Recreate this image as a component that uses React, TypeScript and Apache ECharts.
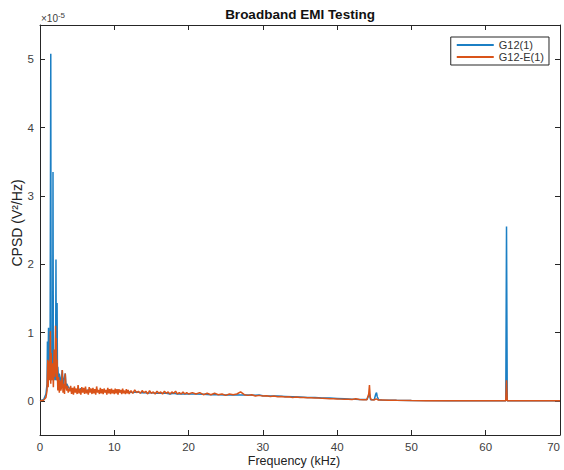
import React, { useEffect, useRef } from "react";
import * as echarts from "echarts";

// [frequency (kHz), CPSD (×1e-5 V²/Hz)]
const g12Low: [number, number][] = [
  [0, 0], [0.5, 0.02], [0.8, 0.1], [0.95, 0.25], [1.0, 0.87], [1.05, 0.3], [1.15, 1.07], [1.2, 0.35], [1.25, 0.6],
  [1.35, 0.4], [1.45, 5.08], [1.5, 0.3], [1.6, 0.5], [1.7, 0.35], [1.75, 3.35], [1.8, 0.4], [1.9, 0.6], [2.0, 0.3],
  [2.1, 0.5], [2.15, 2.07], [2.2, 0.3], [2.25, 0.45], [2.3, 1.43], [2.35, 0.35], [2.4, 0.5], [2.5, 0.3], [2.6, 0.4],
  [2.8, 0.25], [3.0, 0.45], [3.1, 0.2], [3.2, 0.3], [3.4, 0.4], [3.5, 0.2], [3.6, 0.25], [3.8, 0.2], [4.0, 0.18],
];
const g12Mid: [number, number][] = [
  [4.5, 0.17], [5, 0.15], [5.5, 0.18], [6, 0.14], [6.5, 0.16], [7, 0.14], [7.5, 0.16], [8, 0.14], [8.5, 0.15],
  [9, 0.13], [9.5, 0.15], [10, 0.13], [10.5, 0.14], [11, 0.13], [11.5, 0.13], [12, 0.13], [12.5, 0.12], [13, 0.13],
  [13.5, 0.12], [14, 0.12], [14.5, 0.11], [15, 0.12], [15.5, 0.11], [16, 0.11], [16.5, 0.11], [17, 0.11],
  [17.5, 0.1], [18, 0.11], [18.5, 0.1], [19, 0.1], [19.5, 0.1], [20, 0.1], [21, 0.1], [22, 0.095], [23, 0.09],
  [24, 0.09], [25, 0.085], [26, 0.09], [27, 0.085], [28, 0.085], [29, 0.08], [29.5, 0.085], [30, 0.075],
  [31, 0.07], [32, 0.07], [33, 0.065], [34, 0.06], [35, 0.055], [36, 0.05], [37, 0.05], [38, 0.04], [39, 0.04],
  [40, 0.035], [41, 0.03], [42, 0.025], [43, 0.02], [44, 0.018],
];
const g12High: [number, number][] = [
  [44.35, 0.1], [44.5, 0.017], [45, 0.02], [45.2, 0.1], [45.3, 0.12], [45.4, 0.06], [45.6, 0.015], [46, 0.012],
  [48, 0.008], [50, 0.005], [55, 0.002], [62.7, 0.001], [62.8, 2.55], [62.9, 0.001], [66, 0], [70, 0],
];

const g12ELow: [number, number][] = [
  [0, 0], [0.5, 0.01], [0.8, 0.05], [0.95, 0.15], [1.05, 0.6], [1.1, 0.2], [1.2, 0.58], [1.3, 0.3], [1.4, 1.02],
  [1.45, 0.25], [1.5, 0.7], [1.6, 0.3], [1.7, 0.55], [1.8, 0.2], [1.9, 0.75], [2.0, 0.35], [2.1, 1.1], [2.15, 0.4],
  [2.2, 0.92], [2.25, 0.3], [2.3, 0.6], [2.4, 0.15], [2.5, 0.35], [2.6, 0.12], [2.7, 0.3], [2.8, 0.15], [2.9, 0.2],
  [3.0, 0.45], [3.1, 0.12], [3.2, 0.25], [3.3, 0.1], [3.4, 0.4], [3.5, 0.2], [3.6, 0.15], [3.7, 0.22], [3.8, 0.12],
  [3.9, 0.18], [4.0, 0.14],
];
const g12ENoise: [number, number][] = [
  [4.125, 0.22], [4.25, 0.1], [4.375, 0.19], [4.5, 0.09], [4.625, 0.21], [4.75, 0.12], [4.875, 0.18], [5.0, 0.1],
  [5.125, 0.23], [5.25, 0.11], [5.375, 0.17], [5.5, 0.09], [5.625, 0.2], [5.75, 0.12], [5.875, 0.19], [6.0, 0.1],
  [6.125, 0.21], [6.25, 0.11], [6.375, 0.16], [6.5, 0.09], [6.625, 0.2], [6.75, 0.12], [6.875, 0.18], [7.0, 0.1],
  [7.125, 0.19], [7.25, 0.11], [7.375, 0.17], [7.5, 0.09], [7.625, 0.21], [7.75, 0.12], [7.875, 0.16], [8.0, 0.1],
  [8.125, 0.19], [8.25, 0.11], [8.375, 0.17], [8.5, 0.1], [8.625, 0.18], [8.75, 0.12], [8.875, 0.16], [9.0, 0.09],
  [9.125, 0.19], [9.25, 0.11], [9.375, 0.17], [9.5, 0.1], [9.625, 0.18], [9.75, 0.11], [9.875, 0.16], [10.0, 0.1],
  [10.125, 0.18], [10.25, 0.11], [10.375, 0.17], [10.5, 0.09], [10.625, 0.17], [10.75, 0.12], [10.875, 0.16], [11.0, 0.1],
  [11.125, 0.18], [11.25, 0.11], [11.375, 0.15], [11.5, 0.1], [11.625, 0.17], [11.75, 0.11], [11.875, 0.16], [12.0, 0.1],
  [12.25, 0.15], [12.5, 0.11], [12.75, 0.16], [13.0, 0.12], [13.25, 0.14], [13.5, 0.11], [13.75, 0.15], [14.0, 0.12],
  [14.25, 0.14], [14.5, 0.1], [14.75, 0.15], [15.0, 0.11], [15.25, 0.13], [15.5, 0.1], [15.75, 0.14], [16.0, 0.11],
  [16.25, 0.13], [16.5, 0.1], [16.75, 0.14], [17.0, 0.11], [17.25, 0.13], [17.5, 0.1], [17.75, 0.13], [18.0, 0.11],
  [18.25, 0.14], [18.5, 0.1], [18.75, 0.12], [19.0, 0.1], [19.25, 0.13], [19.5, 0.1], [19.75, 0.12], [20.0, 0.1],
  [20.5, 0.12], [21, 0.1], [21.5, 0.12], [22, 0.09], [22.5, 0.11], [23, 0.09], [23.5, 0.11], [24, 0.09],
  [24.5, 0.1], [25, 0.08], [25.5, 0.1], [26, 0.09], [26.5, 0.1], [27, 0.13], [27.5, 0.09], [28, 0.08],
  [28.5, 0.09], [29, 0.07], [29.5, 0.08], [30, 0.07], [30.5, 0.075], [31, 0.065], [31.5, 0.07], [32, 0.06],
  [32.5, 0.065], [33, 0.055], [33.5, 0.06], [34, 0.05], [34.5, 0.055], [35, 0.048], [35.5, 0.05], [36, 0.045],
  [36.5, 0.045], [37, 0.04], [37.5, 0.04], [38, 0.036], [38.5, 0.035], [39, 0.03], [39.5, 0.03], [40, 0.028],
  [40.5, 0.025], [41, 0.024], [41.5, 0.022], [42, 0.02], [42.5, 0.03], [43, 0.018], [43.5, 0.017], [44, 0.016],
];
const g12EHigh: [number, number][] = [
  [44.25, 0.1], [44.35, 0.23], [44.45, 0.05], [44.6, 0.015], [45, 0.014], [45.25, 0.03], [45.5, 0.013], [46, 0.012],
  [47, 0.01], [48, 0.008], [50, 0.005], [52, 0.003], [55, 0.002], [58, 0.001], [62.7, 0.001], [62.8, 0.3],
  [62.9, 0.001], [63, 0.001], [66, 0], [70, 0],
];

const seriesNames = ["G12(1)", "G12-E(1)"];
const yTickValues = [0, 1, 2, 3, 4, 5];
const xTickInterval = 10;

const FONT = "Liberation Sans, Arial, Helvetica, sans-serif";
const AXIS_COLOR = "#262626";
const LABEL_COLOR = "#404040";
const BLUE = "#1b7fc4";
const ORANGE = "#D95319";

export default function App() {
  const ref = useRef<HTMLDivElement>(null);
  useEffect(() => {
    if (!ref.current) return;
    const chart = echarts.init(ref.current, null, { renderer: "svg" });
    const blueData = [...g12Low, ...g12Mid, ...g12High];
    const orangeData = [...g12ELow, ...g12ENoise, ...g12EHigh];
    const axisLine = { show: true, onZero: false, lineStyle: { color: AXIS_COLOR, width: 1 } };
    const tick = { show: true, inside: true, length: 5, lineStyle: { color: AXIS_COLOR } };
    chart.setOption({
      animation: false,
      backgroundColor: "#ffffff",
      textStyle: { fontFamily: FONT },
      grid: { left: 40, right: 4, top: 25, bottom: 35, containLabel: false, outerBoundsMode: "none" },
      legend: {
        right: 15,
        top: 37,
        orient: "vertical",
        backgroundColor: "#ffffff",
        borderColor: AXIS_COLOR,
        borderWidth: 1,
        borderRadius: 0,
        padding: [2, 5, 2, 6],
        itemWidth: 37,
        itemHeight: 2,
        itemGap: 0,
        textStyle: { fontFamily: FONT, fontSize: 11, color: "#333", lineHeight: 12 },
        data: [
          { name: seriesNames[0], icon: "rect" },
          { name: seriesNames[1], icon: "rect" },
        ],
      },
      graphic: [
        {
          type: "text",
          x: 300,
          y: 14,
          style: {
            text: "Broadband EMI Testing",
            font: `bold 13.5px ${FONT}`,
            fill: "#111",
            textAlign: "center",
            textVerticalAlign: "middle",
          },
        },
        {
          type: "text",
          x: 41,
          y: 11,
          style: {
            text: "×10{sup|-5}",
            font: `10px ${FONT}`,
            fill: LABEL_COLOR,
            rich: { sup: { fontSize: 8, verticalAlign: "top", padding: [0, 0, 6, 0] } },
          },
        },
        {
          type: "text",
          x: 294,
          y: 461,
          style: {
            text: "Frequency (kHz)",
            font: `12.5px ${FONT}`,
            fill: "#222",
            textAlign: "center",
            textVerticalAlign: "middle",
          },
        },
        {
          type: "text",
          x: 17,
          y: 223,
          rotation: Math.PI / 2,
          style: {
            text: "CPSD (V²/Hz)",
            font: `14px ${FONT}`,
            fill: "#222",
            textAlign: "center",
            textVerticalAlign: "middle",
          },
        },
      ],
      xAxis: [
        {
          type: "value",
          min: 0,
          max: 70,
          interval: xTickInterval,
          position: "bottom",
          axisLine,
          axisTick: tick,
          axisLabel: { color: LABEL_COLOR, fontSize: 11.5, margin: 6, fontFamily: FONT, alignMaxLabel: "right" },
          splitLine: { show: false },
        },
        {
          type: "value",
          min: 0,
          max: 70,
          interval: xTickInterval,
          position: "top",
          axisLine,
          axisTick: tick,
          axisLabel: { show: false },
          splitLine: { show: false },
        },
      ],
      yAxis: [
        {
          type: "value",
          min: -0.5,
          max: 5.5,
          position: "left",
          axisLine,
          axisTick: { ...tick, customValues: yTickValues },
          axisLabel: { color: LABEL_COLOR, fontSize: 11.5, margin: 6, fontFamily: FONT, customValues: yTickValues },
          splitLine: { show: false },
        },
        {
          type: "value",
          min: -0.5,
          max: 5.5,
          position: "right",
          axisLine,
          axisTick: { ...tick, customValues: yTickValues },
          axisLabel: { show: false, customValues: yTickValues },
          splitLine: { show: false },
        },
      ],
      series: [
        {
          name: seriesNames[0],
          type: "line",
          xAxisIndex: 0,
          yAxisIndex: 0,
          data: blueData,
          symbol: "none",
          showSymbol: false,
          lineStyle: { color: BLUE, width: 1.5, join: "bevel" },
          itemStyle: { color: BLUE },
          emphasis: { disabled: true },
        },
        {
          name: seriesNames[1],
          type: "line",
          xAxisIndex: 0,
          yAxisIndex: 0,
          data: orangeData,
          symbol: "none",
          showSymbol: false,
          lineStyle: { color: ORANGE, width: 1.5, join: "bevel" },
          itemStyle: { color: ORANGE },
          emphasis: { disabled: true },
        },
      ],
    });
    return () => chart.dispose();
  }, []);
  return <div ref={ref} style={{ position: "fixed", left: 0, top: 0, width: 564, height: 470 }} />;
}
